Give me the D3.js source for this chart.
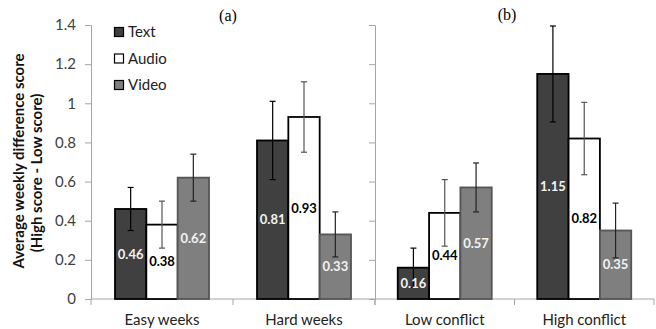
<!DOCTYPE html>
<html>
<head>
<meta charset="utf-8">
<script src="https://cdn.jsdelivr.net/npm/d3@7"></script>
<style>
  html, body { margin: 0; padding: 0; background: #fff; }
  svg { display: block; }
</style>
</head>
<body>
<svg id="chart" width="656" height="329"></svg>
<script>
// ---- data ----
const panelATitle = "(a)";
const panelBTitle = "(b)";
const categoriesA = ["Easy weeks", "Hard weeks"];
const categoriesB = ["Low conflict", "High conflict"];
const seriesNames = ["Text", "Audio", "Video"];
// values ordered: Easy weeks, Hard weeks, Low conflict, High conflict
const textValues  = [0.46, 0.81, 0.16, 1.15];
const audioValues = [0.38, 0.93, 0.44, 0.82];
const videoValues = [0.62, 0.33, 0.57, 0.35];
const textErrors  = [0.11, 0.20, 0.10, 0.245];
const audioErrors = [0.12, 0.18, 0.17, 0.185];
const videoErrors = [0.12, 0.115, 0.125, 0.14];
const yTicks = [0, 0.2, 0.4, 0.6, 0.8, 1, 1.2, 1.4];
const yTitle1 = "Average weekly difference score";
const yTitle2 = "(High score - Low score)";

// ---- styles ----
const fills   = { Text: "#404040", Audio: "#ffffff", Video: "#7f7f7f" };
const strokes = { Text: "#000000", Audio: "#000000", Video: "#555555" };
const errCol  = { Text: "#000000", Audio: "#555555", Video: "#222222" };
const lblCol  = { Text: "#f2f2f2", Audio: "#000000", Video: "#f2f2f2" };
const font = "Lato, 'Open Sans', 'Liberation Sans', sans-serif";

const allCats = categoriesA.concat(categoriesB);
const valuesBySeries = { Text: textValues, Audio: audioValues, Video: videoValues };
const errorsBySeries = { Text: textErrors, Audio: audioErrors, Video: videoErrors };

const svg = d3.select("#chart");
const y = d3.scaleLinear().domain([0, 1.4]).range([299, 25]);

const xA = d3.scaleBand().domain(categoriesA).range([91, 375]).paddingInner(0.338).paddingOuter(0.169);
const xB = d3.scaleBand().domain(categoriesB).range([375, 654]).paddingInner(0.326).paddingOuter(0.163);
const xInner = d3.scaleBand().domain(seriesNames).range([0, xA.bandwidth()]).padding(0);

function groupX(cat) {
  return categoriesA.includes(cat) ? xA(cat) : xB(cat);
}

// ---- axes ----
const axisCol = "#a6a6a6";
const yAxisA = svg.append("g").attr("transform", "translate(91,0)")
  .call(d3.axisLeft(y).tickValues(yTicks).tickSize(6).tickPadding(9)
    .tickFormat(d => d3.format("")(+d.toFixed(1))));
yAxisA.select(".domain").attr("stroke", axisCol);
yAxisA.selectAll(".tick line").attr("stroke", axisCol);
yAxisA.selectAll(".tick text").attr("fill", "#404040").style("font-family", font).style("font-size", "15px");

const yAxisB = svg.append("g").attr("transform", "translate(375,0)")
  .call(d3.axisLeft(y).tickValues(yTicks).tickSize(6).tickFormat(""));
yAxisB.select(".domain").attr("stroke", axisCol);
yAxisB.selectAll(".tick line").attr("stroke", axisCol);

// x baseline with boundary ticks
function xAxisFor(scale, x0, x1) {
  const g = svg.append("g");
  g.append("line").attr("x1", x0).attr("x2", x1).attr("y1", y(0)).attr("y2", y(0)).attr("stroke", axisCol);
  const dom = scale.domain();
  const bounds = [x0, (scale(dom[0]) + scale.bandwidth() + scale(dom[1])) / 2, x1];
  g.selectAll(".bt").data(bounds).join("line")
    .attr("x1", d => d).attr("x2", d => d).attr("y1", y(0)).attr("y2", y(0) + 6).attr("stroke", axisCol);
  g.selectAll(".cl").data(dom).join("text")
    .attr("x", d => scale(d) + scale.bandwidth() / 2).attr("y", 325)
    .attr("text-anchor", "middle").attr("fill", "#222")
    .style("font-family", font).style("font-size", "15px").text(d => d);
}
xAxisFor(xA, 91, 375);
xAxisFor(xB, 375, 654);

// ---- bars ----
const barData = [];
allCats.forEach((cat, i) => {
  seriesNames.forEach(s => {
    barData.push({ cat, s, v: valuesBySeries[s][i], e: errorsBySeries[s][i] });
  });
});

const bw = xInner.bandwidth();
svg.append("g").selectAll("rect").data(barData).join("rect")
  .attr("x", d => groupX(d.cat) + xInner(d.s))
  .attr("y", d => y(d.v))
  .attr("width", bw)
  .attr("height", d => y(0) - y(d.v))
  .attr("fill", d => fills[d.s])
  .attr("stroke", d => strokes[d.s])
  .attr("stroke-width", 1.8);

// ---- error bars ----
const eg = svg.append("g");
barData.forEach(d => {
  const cx = groupX(d.cat) + xInner(d.s) + bw / 2;
  const c = errCol[d.s];
  eg.append("line").attr("x1", cx).attr("x2", cx).attr("y1", y(d.v + d.e)).attr("y2", y(d.v - d.e)).attr("stroke", c).attr("stroke-width", 1.2);
  [d.v + d.e, d.v - d.e].forEach(t => {
    eg.append("line").attr("x1", cx - 3).attr("x2", cx + 3).attr("y1", y(t)).attr("y2", y(t)).attr("stroke", c).attr("stroke-width", 1.2);
  });
});

// ---- value labels ----
svg.append("g").selectAll("text").data(barData).join("text")
  .attr("x", d => groupX(d.cat) + xInner(d.s) + bw / 2)
  .attr("y", d => (y(0) + y(d.v)) / 2)
  .attr("dy", "0.35em")
  .attr("text-anchor", "middle")
  .attr("fill", d => lblCol[d.s])
  .style("font-family", font).style("font-size", "13px").style("font-weight", "bold")
  .text(d => d.v.toFixed(2));

// ---- panel titles ----
svg.append("text").attr("x", 228).attr("y", 21)
  .attr("text-anchor", "middle").style("font-family", "'Liberation Serif', serif").style("font-size", "16px").text(panelATitle);
svg.append("text").attr("x", 507).attr("y", 20)
  .attr("text-anchor", "middle").style("font-family", "'Liberation Serif', serif").style("font-size", "16px").text(panelBTitle);

// ---- y title ----
svg.append("text").attr("transform", "translate(24,161) rotate(-90)")
  .attr("text-anchor", "middle").style("font-family", font).style("font-size", "15px").style("font-weight", "bold")
  .attr("fill", "#111").text(yTitle1);
svg.append("text").attr("transform", "translate(42,173) rotate(-90)")
  .attr("text-anchor", "middle").style("font-family", font).style("font-size", "15px").style("font-weight", "bold")
  .attr("fill", "#111").text(yTitle2);

// ---- legend ----
const lg = svg.append("g");
seriesNames.forEach((s, i) => {
  const cy = 32 + i * 26.5;
  lg.append("rect").attr("x", 114.5).attr("y", cy - 4.5).attr("width", 9).attr("height", 9)
    .attr("fill", fills[s]).attr("stroke", "#000").attr("stroke-width", 1.2);
  lg.append("text").attr("x", 128).attr("y", cy).attr("dy", "0.35em")
    .attr("fill", "#222").style("font-family", font).style("font-size", "15px").text(s);
});
</script>
</body>
</html>
